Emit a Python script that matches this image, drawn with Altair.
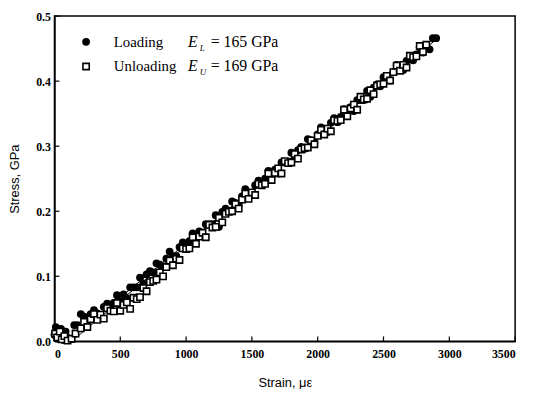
import altair as alt
import pandas as pd

# ---------------- data ----------------
load_strain = [0, 10, 25, 35, 50, 60, 70, 85, 95,
               150, 175, 200, 225, 250, 275, 300, 325, 350, 375, 400, 425, 450, 475, 500,
               525, 550, 575, 600, 625, 650, 675, 700, 725, 750, 775, 800, 825, 850, 875,
               900, 925, 950, 975, 1000, 1025, 1050, 1075, 1100, 1125, 1150, 1175, 1200,
               1225, 1250, 1275, 1300, 1325, 1350, 1375, 1400, 1425, 1450, 1475, 1500, 1525,
               1550, 1575, 1600, 1625, 1650, 1675, 1700, 1725, 1750, 1775, 1800, 1825, 1850,
               1875, 1900, 1925, 1950, 1975, 2000, 2025, 2050, 2075, 2100, 2125, 2150, 2175,
               2200, 2225, 2250, 2275, 2300, 2325, 2350, 2375, 2400, 2425, 2450, 2475, 2500,
               2525, 2550, 2575, 2600, 2625, 2650, 2675, 2700, 2725, 2750, 2775, 2800, 2825,
               2850, 2875, 2900]
load_stress = [0.010, 0.022, 0.016, 0.004, 0.019, 0.010, 0.002, 0.015, 0.006,
               0.025, 0.025, 0.042, 0.038, 0.032, 0.042, 0.048, 0.043, 0.040, 0.053, 0.058,
               0.052, 0.059, 0.071, 0.061, 0.072, 0.066, 0.083, 0.083, 0.083, 0.098, 0.089,
               0.103, 0.108, 0.106, 0.120, 0.118, 0.115, 0.127, 0.138, 0.131, 0.131, 0.145,
               0.152, 0.146, 0.154, 0.166, 0.158, 0.169, 0.163, 0.180, 0.180, 0.180, 0.194,
               0.176, 0.199, 0.204, 0.201, 0.215, 0.213, 0.210, 0.223, 0.234, 0.227, 0.226,
               0.240, 0.247, 0.242, 0.250, 0.262, 0.253, 0.264, 0.258, 0.275, 0.276, 0.276,
               0.290, 0.281, 0.294, 0.299, 0.296, 0.311, 0.309, 0.306, 0.318, 0.329, 0.322,
               0.322, 0.336, 0.343, 0.337, 0.345, 0.357, 0.348, 0.360, 0.354, 0.371, 0.371,
               0.371, 0.385, 0.376, 0.390, 0.395, 0.392, 0.406, 0.404, 0.401, 0.414, 0.425,
               0.418, 0.417, 0.431, 0.438, 0.432, 0.441, 0.452, 0.444, 0.455, 0.449, 0.466,
               0.466]

unload_strain = [5, 20, 40, 55, 75, 100, 130, 160,
                 200, 225, 250, 275, 300, 325, 350, 375, 400, 425, 450, 475, 500, 525, 550,
                 575, 600, 625, 650, 675, 700, 725, 750, 775, 800, 825, 850, 875, 900, 925,
                 950, 975, 1000, 1025, 1050, 1075, 1100, 1125, 1150, 1175, 1200, 1225, 1250,
                 1275, 1300, 1325, 1350, 1375, 1400, 1425, 1450, 1475, 1500, 1525, 1550, 1575,
                 1600, 1625, 1650, 1675, 1700, 1725, 1750, 1775, 1800, 1825, 1850, 1875, 1900,
                 1925, 1950, 1975, 2000, 2025, 2050, 2075, 2100, 2125, 2150, 2175, 2200, 2225,
                 2250, 2275, 2300, 2325, 2350, 2375, 2400, 2425, 2450, 2475, 2500, 2525, 2550,
                 2575, 2600, 2625, 2650, 2675, 2700, 2725, 2750, 2775, 2800, 2825]
unload_stress = [0.012, 0.006, 0.015, 0.003, 0.008, 0.001, 0.004, 0.012,
                 0.020, 0.030, 0.022, 0.034, 0.042, 0.033, 0.041, 0.035, 0.051, 0.047, 0.046,
                 0.059, 0.047, 0.056, 0.060, 0.050, 0.067, 0.065, 0.068, 0.082, 0.077, 0.091,
                 0.093, 0.095, 0.106, 0.100, 0.114, 0.124, 0.117, 0.127, 0.125, 0.143, 0.142,
                 0.143, 0.160, 0.150, 0.161, 0.167, 0.160, 0.179, 0.175, 0.176, 0.190, 0.183,
                 0.196, 0.199, 0.200, 0.211, 0.204, 0.218, 0.227, 0.219, 0.229, 0.225, 0.242,
                 0.240, 0.242, 0.258, 0.248, 0.259, 0.266, 0.258, 0.277, 0.274, 0.275, 0.288,
                 0.281, 0.295, 0.297, 0.298, 0.309, 0.303, 0.316, 0.325, 0.318, 0.327, 0.323,
                 0.340, 0.339, 0.340, 0.356, 0.346, 0.358, 0.364, 0.356, 0.376, 0.372, 0.373,
                 0.386, 0.380, 0.393, 0.395, 0.396, 0.408, 0.401, 0.414, 0.424, 0.416, 0.425,
                 0.421, 0.439, 0.437, 0.438, 0.454, 0.445, 0.456]

# linear fits (E_L = 165 GPa, E_U = 169 GPa)
fit_L_strain = [90, 2900]
fit_L_stress = [0.0, 0.464]
fit_U_strain = [130, 2830]
fit_U_stress = [0.0, 0.456]

x_ticks = [0, 500, 1000, 1500, 2000, 2500, 3000, 3500]
y_ticks = [0.0, 0.1, 0.2, 0.3, 0.4, 0.5]
series_names = ["Loading", "Unloading"]

# ---------------- tables ----------------
load_df = pd.DataFrame({"strain": load_strain, "stress": load_stress})
unload_df = pd.DataFrame({"strain": unload_strain, "stress": unload_stress})
fits = pd.DataFrame({
    "strain": fit_L_strain + fit_U_strain,
    "stress": fit_L_stress + fit_U_stress,
    "fit": ["L"] * 2 + ["U"] * 2,
})
xt = pd.DataFrame({"strain": x_ticks})
yt = pd.DataFrame({"stress": y_ticks})

SERIF = "Liberation Serif, Times New Roman, serif"
SANS = "Liberation Sans Narrow, Liberation Sans, Arial, sans-serif"

xscale = alt.Scale(domain=[0, 3500], nice=False, zero=False)
yscale = alt.Scale(domain=[0, 0.5], nice=False, zero=False)

xaxis = alt.Axis(values=x_ticks, format="d", title="Strain, \u03bc\u03b5", grid=False,
                 tickSize=0, labelPadding=7, labelFont=SERIF, labelFontWeight="bold",
                 labelFontSize=12, labelColor="black", domainColor="black", domainWidth=1.5,
                 titleFont=SANS, titleFontSize=13, titleFontWeight="normal",
                 titleColor="black", titlePadding=18)
yaxis = alt.Axis(values=y_ticks, format=".1f", title="Stress, GPa", grid=False,
                 tickSize=0, labelPadding=4, labelFont=SERIF, labelFontWeight="bold",
                 labelFontSize=12, labelColor="black", domainColor="black", domainWidth=1.5,
                 titleFont=SANS, titleFontSize=13, titleFontWeight="normal",
                 titleColor="black", titlePadding=14)

fit_lines = alt.Chart(fits).mark_line(color="black", strokeWidth=1).encode(
    x=alt.X("strain:Q", scale=xscale, axis=xaxis),
    y=alt.Y("stress:Q", scale=yscale, axis=yaxis),
    detail="fit:N",
)

loading = alt.Chart(load_df).mark_point(shape="circle", filled=True, size=62,
                                        color="black", opacity=1).encode(
    x=alt.X("strain:Q", scale=xscale),
    y=alt.Y("stress:Q", scale=yscale),
)
unloading = alt.Chart(unload_df).mark_point(shape="square", filled=False, size=40,
                                            stroke="black", fill="white", fillOpacity=1,
                                            strokeWidth=1.6, opacity=1).encode(
    x=alt.X("strain:Q", scale=xscale),
    y=alt.Y("stress:Q", scale=yscale),
)

x_tick_marks = alt.Chart(xt).mark_rule(color="black", strokeWidth=1.2).encode(
    x=alt.X("strain:Q", scale=xscale),
    y=alt.value(329), y2=alt.value(324),
)
y_tick_marks = alt.Chart(yt).mark_rule(color="black", strokeWidth=1.2).encode(
    y=alt.Y("stress:Q", scale=yscale),
    x=alt.value(0), x2=alt.value(5),
)

one = alt.Data(values=[{}])


def txt(s, x, y, size=15, style="normal"):
    return alt.Chart(one).mark_text(font=SERIF, fontSize=size, fontStyle=style,
                                    align="left", baseline="alphabetic",
                                    color="black").encode(
        x=alt.value(x), y=alt.value(y), text=alt.value(s))


legend_marks = [
    alt.Chart(one).mark_point(shape="circle", filled=True, size=62, color="black",
                              opacity=1).encode(x=alt.value(32), y=alt.value(26)),
    alt.Chart(one).mark_point(shape="square", filled=False, size=40, stroke="black",
                              fill="white", fillOpacity=1, strokeWidth=1.6,
                              opacity=1).encode(x=alt.value(32), y=alt.value(51)),
    txt(series_names[0], 60, 31),
    txt(series_names[1], 60, 56),
    txt("E", 135, 31, size=16, style="italic"),
    txt("L", 147, 35, size=9, style="italic"),
    txt("= 165 GPa", 158, 31, size=16),
    txt("E", 135, 56, size=16, style="italic"),
    txt("U", 147, 60, size=9, style="italic"),
    txt("= 169 GPa", 158, 56, size=16),
]

chart = alt.layer(fit_lines, loading, unloading, x_tick_marks, y_tick_marks,
                  *legend_marks).properties(
    width=466, height=329,
    autosize=alt.AutoSizeParams(type="none"),
    padding={"left": 47, "top": 6, "right": 11, "bottom": 46},
).configure_view(stroke="black", strokeWidth=1.5)

chart.save("out.html", embed_options={"renderer": "svg", "actions": False})
